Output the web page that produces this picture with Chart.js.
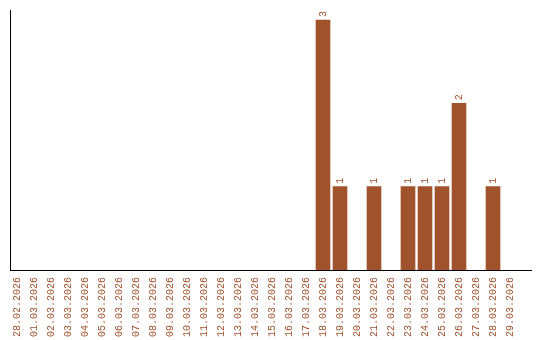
<!DOCTYPE html>
<html>
<head>
<meta charset="utf-8">
<script src="https://cdn.jsdelivr.net/npm/chart.js@4/dist/chart.umd.min.js"></script>
<style>
  body { margin: 0; background: #fff; }
  canvas { display: block; }
</style>
</head>
<body>
<canvas id="myChart" width="540" height="340"></canvas>
<script>
const dayLabels = [
  '28.02.2026', '01.03.2026', '02.03.2026', '03.03.2026', '04.03.2026',
  '05.03.2026', '06.03.2026', '07.03.2026', '08.03.2026', '09.03.2026',
  '10.03.2026', '11.03.2026', '12.03.2026', '13.03.2026', '14.03.2026',
  '15.03.2026', '16.03.2026', '17.03.2026', '18.03.2026', '19.03.2026',
  '20.03.2026', '21.03.2026', '22.03.2026', '23.03.2026', '24.03.2026',
  '25.03.2026', '26.03.2026', '27.03.2026', '28.03.2026', '29.03.2026',
];
const dayCounts = [
  0, 0, 0, 0, 0, 0, 0, 0, 0, 0,
  0, 0, 0, 0, 0, 0, 0, 0, 3, 1,
  0, 1, 0, 1, 1, 1, 2, 0, 1, 0,
];

const barColor = '#a0522d';
const textColor = '#a0522d';
const monoFont = { family: 'Liberation Mono', size: 10 };

// numbers on top of the bars, turned upwards like the day labels
const valueLabels = {
  id: 'valueLabels',
  afterDatasetsDraw: (chart) => {
    const { ctx } = chart;
    const meta = chart.getDatasetMeta(0);
    meta.data.forEach((bar, i) => {
      const v = dayCounts[i];
      if (!v) return;
      ctx.save();
      ctx.translate(bar.x, bar.y - 3);
      ctx.rotate(-Math.PI / 2);
      ctx.font = `${monoFont.size}px ${monoFont.family}`;
      ctx.fillStyle = textColor;
      ctx.textAlign = 'left';
      ctx.textBaseline = 'middle';
      ctx.fillText(String(v), 0, 0);
      ctx.restore();
    });
  },
};

const ctx = document.getElementById('myChart').getContext('2d');
const myChart = new Chart(ctx, {
  type: 'bar',
  data: {
    datasets: [{
      // empty days get no bar at all
      data: dayCounts.map((v, i) => ({ x: i, y: v || null })),
      backgroundColor: barColor,
      barThickness: 14,
      borderWidth: 0,
    }],
  },
  options: {
    responsive: false,
    animation: false,
    layout: { padding: { top: 10, left: 10, right: 9, bottom: 0 } },
    plugins: { legend: { display: false }, tooltip: { enabled: false } },
    scales: {
      x: {
        type: 'linear',
        offset: false,
        min: -0.41,
        max: 30.235,
        grid: { display: false, drawTicks: false, offset: false },
        border: { display: true, color: '#000', width: 1 },
        afterFit: (scale) => {
          scale.height = 70;
          scale.paddingLeft = 0;
          scale.paddingRight = 0;
        },
        ticks: {
          stepSize: 1,
          includeBounds: false,
          autoSkip: false,
          maxRotation: 90,
          minRotation: 90,
          padding: 7,
          color: textColor,
          font: monoFont,
          callback: (value) => dayLabels[value] || '',
        },
      },
      y: {
        min: 0,
        max: 3.12,
        grid: { display: false, drawTicks: false },
        border: { display: true, color: '#000', width: 1 },
        ticks: { display: false },
        afterFit: (scale) => { scale.width = 0; },
      },
    },
  },
  plugins: [valueLabels],
});
</script>
</body>
</html>
